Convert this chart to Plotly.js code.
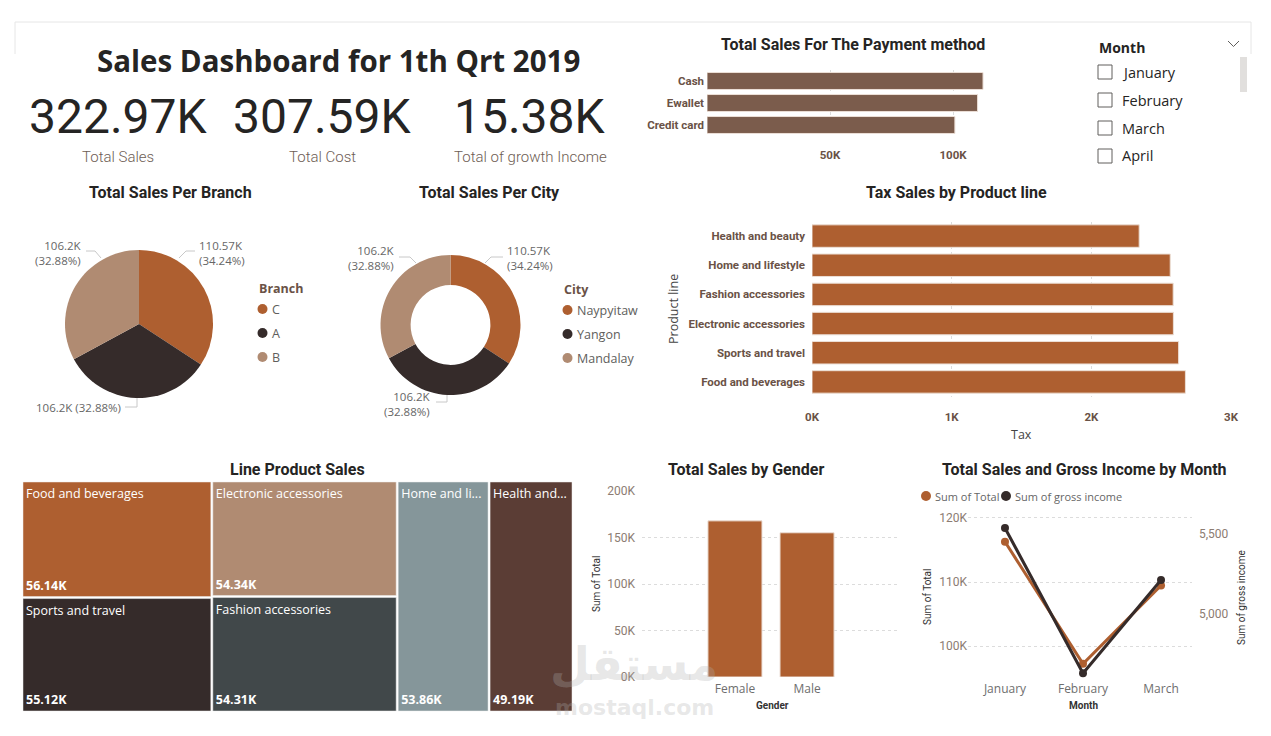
<!DOCTYPE html>
<html>
<head>
<meta charset="utf-8">
<script src="https://cdn.plot.ly/plotly-3.0.1.min.js"></script>
<style>
  html, body { margin: 0; padding: 0; background: #ffffff; }
  #dash { width: 1271px; height: 736px; }
</style>
</head>
<body>
<div id="dash"></div>
<script>
// ---------- data ----------
const kpiValues = [322966.75, 307587.38, 15379.37];
const kpiLabels = ['Total Sales', 'Total Cost', 'Total of growth Income'];

const paymentMethods = ['Cash', 'Ewallet', 'Credit card'];
const paymentSales = [112206.57, 109993.11, 100767.07];

const sliderMonths = ['January', 'February', 'March', 'April'];

const branches = ['C', 'A', 'B'];
const branchSales = [110568.71, 106200.37, 106197.67];

const cities = ['Naypyitaw', 'Yangon', 'Mandalay'];
const citySales = [110568.71, 106200.37, 106197.67];

const productLines = ['Health and beauty', 'Home and lifestyle', 'Fashion accessories',
                      'Electronic accessories', 'Sports and travel', 'Food and beverages'];
const productTax = [2342.56, 2564.85, 2586.00, 2587.50, 2624.90, 2673.56];
const productSales = [49193.74, 53861.91, 54305.90, 54337.53, 55122.83, 56144.84];
const tileCaptions = ['Health and...', 'Home and li...', 'Fashion accessories',
                      'Electronic accessories', 'Sports and travel', 'Food and beverages'];

const genders = ['Female', 'Male'];
const genderSales = [167882.93, 155083.82];

const months = ['January', 'February', 'March'];
const monthSales = [116291.87, 97219.37, 109455.51];
const monthGrossIncome = [5537.71, 4629.49, 5212.17];

// ---------- styling ----------
const W = 1271, H = 736;
const X = p => p / W;
const Y = p => 1 - p / H;

const RUST = '#AE5F30', DARK = '#352B2A', TAN = '#B08B72';
const pieColors = [RUST, DARK, TAN];
const productColors = ['#5B3D35', '#85969A', '#41484A', '#B08B72', '#352B2A', '#AE5F30'];
const TITLE_FONT = { family: 'Roboto, sans-serif', size: 16, color: '#252423', weight: 'bold' };
const BODY = 'Open Sans, sans-serif';

const fmtK = v => parseFloat((v / 1000).toFixed(2)) + 'K';
const pct = (v, arr) => (v / arr.reduce((a, b) => a + b, 0) * 100).toFixed(2) + '%';

const annotations = [];
const shapes = [];
function text(t, x, y, font, opts) {
  annotations.push(Object.assign({
    text: t, x: X(x), y: Y(y), xref: 'paper', yref: 'paper',
    showarrow: false, xanchor: 'center', yanchor: 'middle', font: font
  }, opts || {}));
}
function seg(pts, color) {
  const d = pts.map((p, i) => (i ? 'L' : 'M') + X(p[0]) + ',' + Y(p[1])).join(' ');
  shapes.push({ type: 'path', path: d, xref: 'paper', yref: 'paper', line: { color: color, width: 1 } });
}

// ---------- header ----------
text('Sales Dashboard for 1th Qrt 2019', 338, 61, { family: BODY, size: 29.5, color: '#252423', weight: 'bold' });
const kpiX = [118, 322, 530];
kpiValues.forEach((v, i) => {
  text(fmtK(v), kpiX[i], 116, { family: 'Roboto, sans-serif', size: 48, color: '#252423' });
  text(kpiLabels[i], kpiX[i], 157, { family: 'Roboto, sans-serif', size: 15, color: '#6E5D54', weight: 300 });
});

// frame lines
shapes.push({ type: 'line', xref: 'paper', yref: 'paper', x0: X(15), x1: X(1251), y0: Y(22), y1: Y(22), line: { color: '#e6e6e6', width: 1 } });
shapes.push({ type: 'line', xref: 'paper', yref: 'paper', x0: X(15), x1: X(15), y0: Y(22), y1: Y(54), line: { color: '#e6e6e6', width: 1 } });
shapes.push({ type: 'line', xref: 'paper', yref: 'paper', x0: X(1251), x1: X(1251), y0: Y(22), y1: Y(54), line: { color: '#e6e6e6', width: 1 } });

// ---------- chart titles ----------
text('Total Sales For The Payment method', 853, 44, TITLE_FONT);
text('Total Sales Per Branch', 170, 192, TITLE_FONT);
text('Total Sales Per City', 490, 193, TITLE_FONT);
text('Tax Sales by Product line', 956, 192, TITLE_FONT);
text('Line Product Sales', 297, 469, TITLE_FONT);
text('Total Sales by Gender', 746, 469, TITLE_FONT);
text('Total Sales and Gross Income by Month', 1084, 469, TITLE_FONT);

// ---------- month slicer ----------
text('Month', 1097, 47, { family: BODY, size: 14, color: '#252423', weight: 'bold' }, { xanchor: 'left' });
seg([[1228, 41], [1233.5, 46.5], [1239, 41]], '#605e5c');
shapes.push({ type: 'rect', xref: 'paper', yref: 'paper', x0: X(1240), x1: X(1247), y0: Y(92), y1: Y(57), fillcolor: '#e1dfdd', line: { width: 0 } });
sliderMonths.forEach((m, i) => {
  const cy = 72 + 28 * i;
  shapes.push({ type: 'rect', xref: 'paper', yref: 'paper', x0: X(1098), x1: X(1112), y0: Y(cy + 7), y1: Y(cy - 7), line: { color: '#605e5c', width: 1 }, fillcolor: 'rgba(0,0,0,0)' });
  text(m, 1120, cy, { family: BODY, size: 14.5, color: '#252423' }, { xanchor: 'left' });
});

// ---------- pie labels + legends ----------
const LABEL_FONT = { family: BODY, size: 11.5, color: '#666666' };
const LEADER = '#c8c8c8';
function pieLabels(vals, places) {
  vals.forEach((v, i) => {
    const p = places[i];
    const t = p.oneLine ? fmtK(v) + ' (' + pct(v, vals) + ')' : fmtK(v) + '<br>(' + pct(v, vals) + ')';
    text(t, p.x, p.y, LABEL_FONT, { xanchor: p.anchor, align: p.anchor });
    seg(p.leader, LEADER);
  });
}
pieLabels(branchSales, [
  { x: 197, y: 253, anchor: 'left', leader: [[179, 258], [186, 251], [195, 251]] },
  { x: 123, y: 407, anchor: 'right', oneLine: true, leader: [[137, 398], [137, 407], [125, 407]] },
  { x: 84, y: 253, anchor: 'right', leader: [[101, 258], [95, 251], [86, 251]] }
]);
pieLabels(citySales, [
  { x: 505, y: 258, anchor: 'left', leader: [[485, 263], [491, 257], [503, 257]] },
  { x: 433, y: 404, anchor: 'right', leader: [[447, 395], [447, 402], [436, 402]] },
  { x: 397, y: 258, anchor: 'right', leader: [[416, 263], [410, 257], [399, 257]] }
]);

function legend(title, names, x, y0) {
  text(title, x, y0, { family: BODY, size: 12.5, color: '#6A5246', weight: 'bold' }, { xanchor: 'left' });
  names.forEach((n, i) => {
    const cy = y0 + 21 + 24 * i;
    shapes.push({ type: 'circle', xref: 'paper', yref: 'paper', x0: X(x + 0.5), x1: X(x + 10.5), y0: Y(cy + 5), y1: Y(cy - 5), fillcolor: pieColors[i], line: { width: 0 } });
    text(n, x + 13, cy, { family: BODY, size: 12.5, color: '#605e5c' }, { xanchor: 'left' });
  });
}
legend('Branch', branches, 257, 288);
legend('City', cities, 562, 289);

// ---------- axis titles ----------
const AX_T = { family: BODY, size: 12.5, color: '#444444' };
const AX_S = { family: 'Roboto, sans-serif', size: 10, color: '#333333' };
text('Tax', 1021, 434, AX_T);
text('Product line', 673, 309, AX_T, { textangle: -90 });
text('Sum of Total', 596, 584, AX_S, { textangle: -90 });
text('Gender', 772, 705, Object.assign({}, AX_S, { weight: 'bold' }));
text('Sum of Total', 927, 597, AX_S, { textangle: -90 });
text('Sum of gross income', 1241, 598, AX_S, { textangle: -90 });
text('Month', 1083, 705, Object.assign({}, AX_S, { weight: 'bold' }));

// line chart legend
[['Sum of Total', RUST, 921], ['Sum of gross income', DARK, 1001]].forEach(([n, c, x]) => {
  shapes.push({ type: 'circle', xref: 'paper', yref: 'paper', x0: X(x), x1: X(x + 10), y0: Y(501), y1: Y(491), fillcolor: c, line: { width: 0 } });
  text(n, x + 12, 496, { family: BODY, size: 11, color: '#666666' }, { xanchor: 'left' });
});

// watermark
text('مستقل', 634, 664, { family: 'DejaVu Sans, sans-serif', size: 46, color: 'rgba(175,175,175,0.3)', weight: 'bold' });
text('mostaql.com', 634, 707, { family: 'DejaVu Sans, sans-serif', size: 22, color: 'rgba(175,175,175,0.3)', weight: 'bold' });

// ---------- traces ----------
const valueTick = { family: 'Roboto, sans-serif', size: 11.5, color: '#6A5246', weight: 'bold' };
const softTick = { family: 'Roboto, sans-serif', size: 12, color: '#8C7C72' };
const catTick = { family: BODY, size: 12, color: '#6e6e6e' };
const barLine = { color: '#ecdfd6', width: 1 };

const traces = [
  { type: 'bar', orientation: 'h', x: paymentSales, y: paymentMethods, xaxis: 'x', yaxis: 'y',
    marker: { color: '#7B5C4C', line: barLine }, hoverinfo: 'none' },
  { type: 'bar', orientation: 'h', x: productTax, y: productLines, xaxis: 'x2', yaxis: 'y2',
    marker: { color: RUST, line: barLine }, hoverinfo: 'none' },
  { type: 'bar', x: genders, y: genderSales, xaxis: 'x3', yaxis: 'y3', width: 0.75,
    marker: { color: RUST, line: barLine }, hoverinfo: 'none' },
  { type: 'scatter', mode: 'lines+markers', x: months, y: monthSales, xaxis: 'x4', yaxis: 'y4',
    line: { color: RUST, width: 3 }, marker: { color: RUST, size: 8 }, hoverinfo: 'none' },
  { type: 'scatter', mode: 'lines+markers', x: months, y: monthGrossIncome, xaxis: 'x4', yaxis: 'y5',
    line: { color: DARK, width: 3 }, marker: { color: DARK, size: 8 }, hoverinfo: 'none' },
  { type: 'pie', labels: branches, values: branchSales, sort: false, direction: 'clockwise', rotation: 0,
    marker: { colors: pieColors }, textinfo: 'none', showlegend: false, hoverinfo: 'none',
    domain: { x: [X(65), X(213)], y: [Y(398), Y(250)] } },
  { type: 'pie', labels: cities, values: citySales, hole: 0.57, sort: false, direction: 'clockwise', rotation: 0,
    marker: { colors: pieColors }, textinfo: 'none', showlegend: false, hoverinfo: 'none',
    domain: { x: [X(380.5), X(520.5)], y: [Y(395), Y(255)] } }
];

const treeBase = {
  type: 'treemap', labels: productLines, parents: productLines.map(() => ''), values: productSales,
  branchvalues: 'remainder', sort: true, pathbar: { visible: false }, leaf: { opacity: 1 },
  tiling: { packing: 'squarify', squarifyratio: 1.618034, pad: 2 },
  domain: { x: [X(23), X(572)], y: [Y(711), Y(482)] }, hoverinfo: 'none'
};
traces.push(Object.assign({}, treeBase, {
  text: tileCaptions, texttemplate: '%{text}', textposition: 'top left',
  textfont: { family: BODY, size: 12.5, color: '#ffffff' },
  marker: { colors: productColors, line: { color: '#eeeeee', width: 0.5 }, pad: { t: 0, l: 0, r: 0, b: 0 } }
}));
traces.push(Object.assign({}, treeBase, {
  text: productSales.map(fmtK), texttemplate: '<b>%{text}</b>', textposition: 'bottom left',
  textfont: { family: BODY, size: 12.5, color: '#ffffff' },
  marker: { colors: productLines.map(() => 'rgba(0,0,0,0)'), line: { width: 0 }, pad: { t: 0, l: 0, r: 0, b: 0 } }
}));

const grid = { showgrid: true, gridcolor: '#dcdcdc', griddash: 'dot', gridwidth: 1, zeroline: false, showline: false, ticks: '', fixedrange: true };

const layout = {
  width: W, height: H, margin: { l: 0, r: 0, t: 0, b: 0 },
  paper_bgcolor: '#ffffff', plot_bgcolor: 'rgba(0,0,0,0)',
  showlegend: false, bargap: 0.23,
  font: { family: BODY, color: '#444444' },
  xaxis: Object.assign({}, grid, { domain: [X(707), X(1014.5)], range: [0, 125000], anchor: 'y',
    tickvals: [50000, 100000], ticktext: ['50K', '100K'], tickfont: valueTick, ticklabelstandoff: 10 }),
  yaxis: Object.assign({}, grid, { showgrid: false, domain: [Y(136), Y(70)], type: 'category', autorange: 'reversed', anchor: 'x',
    tickfont: valueTick, ticklabelstandoff: 2 }),
  xaxis2: Object.assign({}, grid, { domain: [X(812), X(1231)], range: [0, 3000], anchor: 'y2',
    tickvals: [0, 1000, 2000, 3000], ticktext: ['0K', '1K', '2K', '3K'], tickfont: valueTick, ticklabelstandoff: 12 }),
  yaxis2: Object.assign({}, grid, { showgrid: false, domain: [Y(396.5), Y(221.5)], type: 'category', autorange: 'reversed', anchor: 'x2',
    tickfont: valueTick, ticklabelstandoff: 6 }),
  xaxis3: Object.assign({}, grid, { showgrid: false, domain: [X(642), X(900)], type: 'category', range: [-1.29, 2.29], anchor: 'y3',
    tickfont: catTick, ticklabelstandoff: 3 }),
  yaxis3: Object.assign({}, grid, { domain: [Y(677), Y(491)], range: [0, 200000], anchor: 'x3',
    tickvals: [0, 50000, 100000, 150000, 200000], ticktext: ['0K', '50K', '100K', '150K', '200K'], tickfont: softTick, ticklabelstandoff: 6 }),
  xaxis4: Object.assign({}, grid, { showgrid: false, domain: [X(968), X(1192)], type: 'category', range: [-0.474, 2.397], anchor: 'y4',
    tickfont: catTick }),
  yaxis4: Object.assign({}, grid, { domain: [Y(680), Y(508)], range: [94690, 121560], anchor: 'x4',
    tickvals: [100000, 110000, 120000], ticktext: ['100K', '110K', '120K'], tickfont: softTick }),
  yaxis5: Object.assign({}, grid, { showgrid: false, overlaying: 'y4', side: 'right', anchor: 'x4', range: [4587.5, 5662.5],
    tickvals: [5000, 5500], tickformat: ',', tickfont: softTick, ticklabelstandoff: 6 }),
  annotations: annotations,
  shapes: shapes
};

Plotly.newPlot('dash', traces, layout, { displayModeBar: false, staticPlot: true });
</script>
</body>
</html>
